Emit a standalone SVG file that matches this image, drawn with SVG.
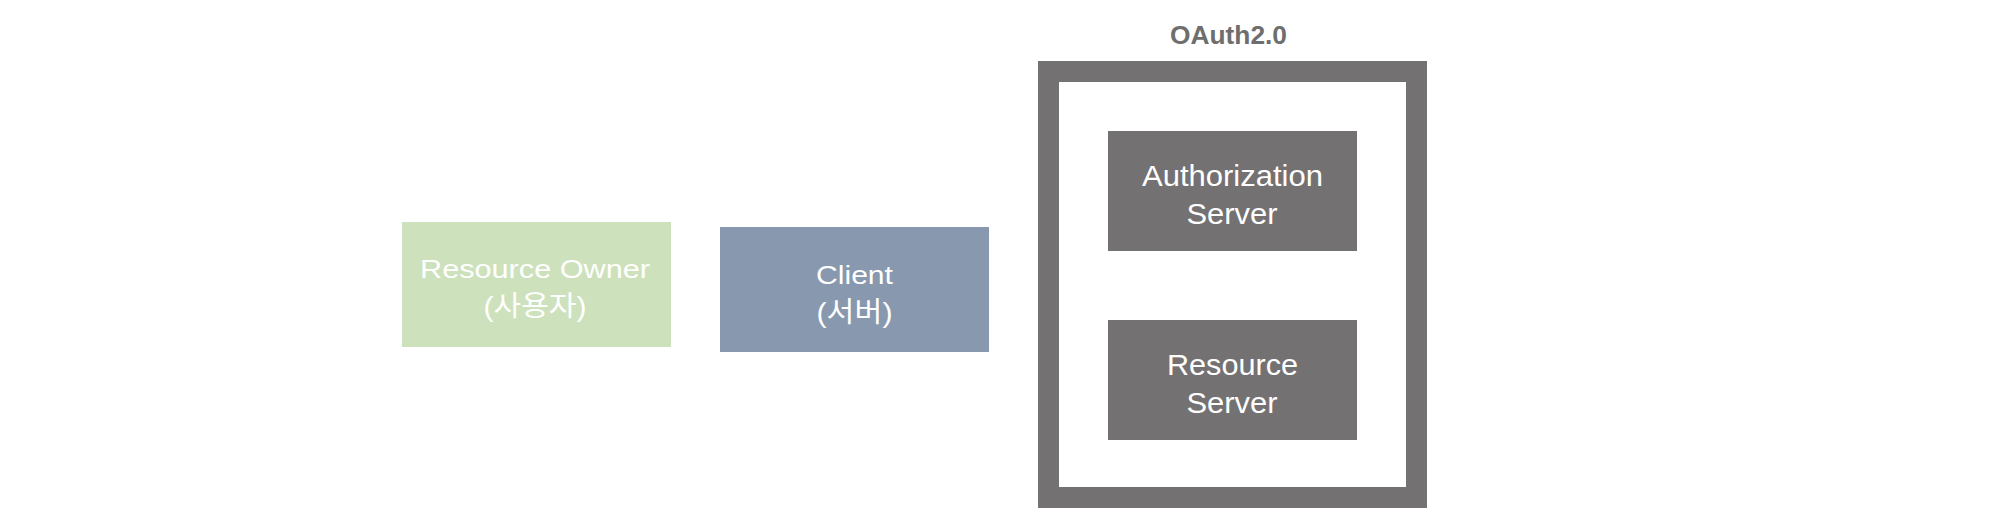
<svg xmlns="http://www.w3.org/2000/svg" width="2000" height="523" viewBox="0 0 2000 523">
<style>
.lbl{font-family:"Liberation Sans",Arial,"Noto Sans CJK KR",sans-serif;fill:#ffffff;text-anchor:middle}
.small{font-size:26px}
.ko{font-size:28px}
.big{font-size:29px}
.gray{fill:#747172}
.title{font-family:"Liberation Sans",Arial,sans-serif;font-weight:bold;font-size:25px;fill:#6e6e6e;text-anchor:middle}
</style>
<rect width="2000" height="523" fill="#ffffff"/>
<g id="connectors"></g>
<g id="resource-owner">
<rect x="402" y="222" width="269" height="125" fill="#cde2bc"/>
<text class="lbl small" x="535" y="278" textLength="230" lengthAdjust="spacingAndGlyphs">Resource Owner</text>
<text class="lbl ko" x="535" y="316" textLength="103" lengthAdjust="spacingAndGlyphs">(사용자)</text>
</g>
<g id="client">
<rect x="720" y="227" width="269" height="125" fill="#8898ae"/>
<text class="lbl small" x="854.5" y="284" textLength="77" lengthAdjust="spacingAndGlyphs">Client</text>
<text class="lbl ko" x="854.5" y="322" textLength="76" lengthAdjust="spacingAndGlyphs">(서버)</text>
</g>
<g id="oauth2">
<rect x="1048.5" y="71.5" width="368" height="426" fill="none" stroke="#747172" stroke-width="21"/>
<text class="title" x="1228.5" y="44" textLength="117" lengthAdjust="spacingAndGlyphs">OAuth2.0</text>
</g>
<g id="authorization-server">
<rect class="gray" x="1108" y="131" width="249" height="120"/>
<text class="lbl big" x="1232.5" y="186" textLength="181" lengthAdjust="spacingAndGlyphs">Authorization</text>
<text class="lbl big" x="1232" y="224" textLength="91" lengthAdjust="spacingAndGlyphs">Server</text>
</g>
<g id="resource-server">
<rect class="gray" x="1108" y="320" width="249" height="120"/>
<text class="lbl big" x="1232.5" y="375" textLength="131" lengthAdjust="spacingAndGlyphs">Resource</text>
<text class="lbl big" x="1232" y="413" textLength="91" lengthAdjust="spacingAndGlyphs">Server</text>
</g>
</svg>
